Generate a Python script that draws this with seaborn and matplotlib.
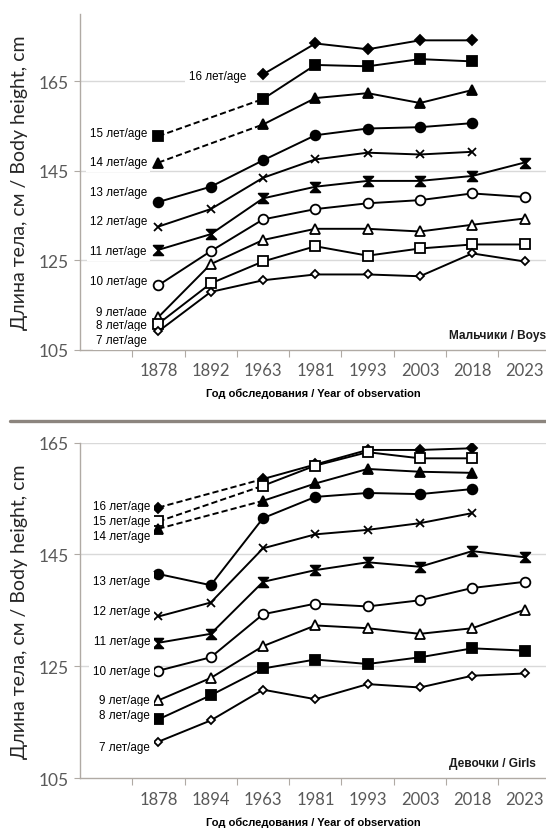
import numpy as np
import pandas as pd
import matplotlib
matplotlib.use("Agg")
import matplotlib.pyplot as plt
from matplotlib.path import Path
from matplotlib.lines import Line2D
import seaborn as sns

nan = np.nan

# --- data ---
ages = [16, 15, 14, 13, 12, 11, 10, 9, 8, 7]

boys_years = ["1878", "1892", "1963", "1981", "1993", "2003", "2018", "2023"]
boys_height = {
    16: [nan, nan, 166.5, 173.4, 172.1, 174.1, 174.1, nan],
    15: [152.7, nan, 161.0, 168.6, 168.3, 169.9, 169.4, nan],
    14: [146.8, nan, 155.3, 161.2, 162.3, 160.1, 163.0, nan],
    13: [138.0, 141.4, 147.3, 152.9, 154.4, 154.7, 155.6, nan],
    12: [132.5, 136.4, 143.4, 147.5, 149.0, 148.6, 149.2, nan],
    11: [127.3, 130.8, 138.8, 141.4, 142.7, 142.7, 143.8, 146.8],
    10: [119.4, 127.0, 134.1, 136.4, 137.7, 138.4, 139.9, 139.1],
    9: [112.3, 124.1, 129.5, 132.0, 132.0, 131.4, 132.9, 134.3],
    8: [110.8, 119.8, 124.7, 128.1, 126.0, 127.6, 128.5, 128.5],
    7: [109.1, 117.9, 120.5, 121.8, 121.8, 121.4, 126.5, 124.7],
}

girls_years = ["1878", "1894", "1963", "1981", "1993", "2003", "2018", "2023"]
girls_height = {
    16: [153.4, nan, 158.5, 161.1, 163.7, 163.7, 164.0, nan],
    15: [150.9, nan, 157.3, 160.9, 163.3, 162.2, 162.2, nan],
    14: [149.6, nan, 154.6, 157.7, 160.3, 159.8, 159.6, nan],
    13: [141.5, 139.5, 151.5, 155.3, 156.0, 155.8, 156.7, nan],
    12: [133.9, 136.4, 146.1, 148.6, 149.4, 150.6, 152.4, nan],
    11: [129.2, 130.8, 140.1, 142.2, 143.6, 142.8, 145.6, 144.5],
    10: [124.2, 126.6, 134.3, 136.2, 135.7, 136.8, 139.0, 140.1],
    9: [118.9, 122.9, 128.6, 132.3, 131.8, 130.8, 131.8, 135.1],
    8: [115.5, 119.8, 124.6, 126.2, 125.4, 126.6, 128.2, 127.8],
    7: [111.5, 115.3, 120.8, 119.1, 121.8, 121.2, 123.3, 123.7],
}

# --- styling / layout ---
hourglass = Path([(-1, 1), (1, 1), (0, 0), (1, -1), (-1, -1), (0, 0), (-1, 1)],
                 [Path.MOVETO] + [Path.LINETO] * 5 + [Path.CLOSEPOLY])

# (marker, filled, size)
boys_markers = {16: ("D", True, 5), 15: ("s", True, 6.5), 14: ("^", True, 6.5),
                13: ("o", True, 7), 12: ("x", True, 6), 11: (hourglass, True, 7),
                10: ("o", False, 7), 9: ("^", False, 6.5), 8: ("s", False, 6.5),
                7: ("D", False, 4.5)}
girls_markers = dict(boys_markers)
girls_markers[15] = ("s", False, 6.5)
girls_markers[8] = ("s", True, 6.5)

# label anchors (x in category units, y in data units)
boys_labels = {16: (1.68, 166.2), 15: (-0.22, 153.4), 14: (-0.22, 146.9),
               13: (-0.22, 140.2), 12: (-0.22, 133.7), 11: (-0.22, 127.0),
               10: (-0.22, 120.3), 9: (-0.22, 113.5), 8: (-0.22, 110.4),
               7: (-0.22, 107.1)}
girls_labels = {16: (-0.16, 153.7), 15: (-0.16, 150.9), 14: (-0.16, 148.3),
                13: (-0.16, 140.2), 12: (-0.16, 134.9), 11: (-0.16, 129.6),
                10: (-0.16, 124.2), 9: (-0.16, 118.9), 8: (-0.16, 116.2),
                7: (-0.16, 110.6)}

sns.set_theme(style="white")
plt.rcParams["font.family"] = ["DejaVu Sans"]

TICK_C = "#595959"
SPINE_C = "#b0aaa4"
GRID_C = "#d9d9d9"


def build_frame(years, heights):
    rows = []
    for age, vals in heights.items():
        for i, (yr, v) in enumerate(zip(years, vals)):
            rows.append({"age": age, "year": yr, "pos": i, "height": v})
    return pd.DataFrame(rows)


def segments(sub):
    """split series into solid runs and dashed bridges over missing years"""
    sub = sub.reset_index(drop=True)
    runs, cur = [], []
    for _, r in sub.iterrows():
        if np.isnan(r["height"]):
            if cur:
                runs.append(cur)
            cur = []
        else:
            cur.append(r)
    if cur:
        runs.append(cur)
    solid = [pd.DataFrame(run) for run in runs]
    dashed = [pd.DataFrame([runs[k][-1], runs[k + 1][0]]) for k in range(len(runs) - 1)]
    return solid, dashed


def draw_panel(ax, years, heights, markers, labels, ylim, tag):
    df = build_frame(years, heights)
    for age in ages:
        sub = df[df["age"] == age]
        mk, filled, ms = markers[age]
        mfc = "black" if filled else "white"
        solid, dashed = segments(sub)
        for seg in dashed:
            sns.lineplot(data=seg, x="pos", y="height", ax=ax, color="black",
                         lw=1.4, linestyle=(0, (3.2, 1.6)), errorbar=None, zorder=2)
        for seg in solid:
            sns.lineplot(data=seg, x="pos", y="height", ax=ax, color="black",
                         lw=1.4, errorbar=None, zorder=2, marker=mk, markersize=ms,
                         markerfacecolor=mfc, markeredgecolor="black",
                         markeredgewidth=1.3)
        lx, ly = labels[age]
        ax.text(lx, ly, f"{age} лет/age", ha="right", va="center", fontsize=8.4,
                family="Liberation Sans", color="black", zorder=3,
                bbox=dict(facecolor="white", edgecolor="none", pad=2.5))

    ax.set_xlim(-1.5, 7.41)
    ax.set_ylim(*ylim)
    ax.set_xticks(range(len(years)))
    ax.set_xticklabels(years)
    ax.set_xticks(np.arange(-0.5, 7.5, 1), minor=True)
    ax.set_yticks([105, 125, 145, 165])
    ax.tick_params(axis="x", which="major", length=0, pad=9, labelsize=12,
                   labelcolor=TICK_C)
    ax.tick_params(axis="x", which="minor", length=5, width=0.8, color=SPINE_C,
                   direction="out", bottom=True)
    ax.tick_params(axis="y", length=4, width=0.8, color=SPINE_C, direction="out",
                   left=True, labelsize=12.5, labelcolor=TICK_C, pad=4)
    for lab in ax.get_xticklabels() + ax.get_yticklabels():
        lab.set_family("Lato")
    ax.grid(False)
    for y in [125, 145, 165]:
        ax.axhline(y, color=GRID_C, lw=1.0, zorder=0)
    for s in ["top", "right"]:
        ax.spines[s].set_visible(False)
    for s in ["left", "bottom"]:
        ax.spines[s].set_color(SPINE_C)
        ax.spines[s].set_linewidth(1.0)
    ax.set_xlabel("Год обследования / Year of observation", fontsize=8,
                  fontweight="bold", family="Liberation Sans", color="black",
                  labelpad=7)
    ax.set_ylabel("Длина тела, см / Body height, cm", fontsize=14,
                  family="Lato", color="#262626", labelpad=8)
    ax.text(5.55, ylim[0] + (ylim[1] - ylim[0]) * 0.045, tag, ha="left", va="center",
            fontsize=8.6, fontweight="bold", family="Liberation Sans", color="#1a1a1a")


fig = plt.figure(figsize=(5.46, 8.29), dpi=100)
ax1 = fig.add_axes([0.1465, 0.577, 0.8535, 0.405])
ax2 = fig.add_axes([0.1465, 0.0603, 0.8535, 0.4045])

draw_panel(ax1, boys_years, boys_height, boys_markers, boys_labels, (105, 180),
           "Мальчики / Boys")
draw_panel(ax2, girls_years, girls_height, girls_markers, girls_labels, (105, 165),
           "Девочки / Girls")

fig.add_artist(Line2D([0.018, 1.0], [1 - 421.7 / 829] * 2, transform=fig.transFigure,
                      color="#8c857e", lw=2.4))

fig.savefig("out.png", dpi=100, facecolor="white")
